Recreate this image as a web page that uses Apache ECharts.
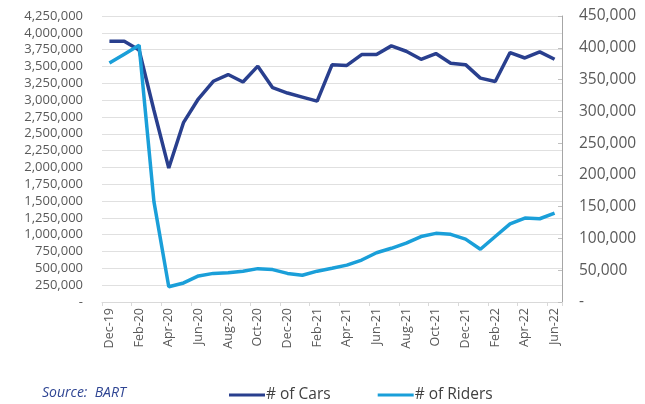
<!DOCTYPE html>
<html>
<head>
<meta charset="utf-8">
<script src="https://cdn.jsdelivr.net/npm/echarts@6/dist/echarts.min.js"></script>
<style>
html,body{margin:0;padding:0;background:#fff;}
#chart{width:645px;height:404px;}
</style>
</head>
<body>
<div id="chart"></div>
<script>
const months = ['Dec-19','Jan-20','Feb-20','Mar-20','Apr-20','May-20','Jun-20','Jul-20','Aug-20','Sep-20','Oct-20','Nov-20','Dec-20','Jan-21','Feb-21','Mar-21','Apr-21','May-21','Jun-21','Jul-21','Aug-21','Sep-21','Oct-21','Nov-21','Dec-21','Jan-22','Feb-22','Mar-22','Apr-22','May-22','Jun-22'];
const cars = [3876000,3876000,3745000,2850000,1990000,2670000,3020000,3280000,3380000,3270000,3505000,3185000,3105000,3045000,2985000,3525000,3515000,3677000,3677000,3806000,3726000,3607000,3692000,3547000,3527000,3327000,3277000,3707000,3626000,3716000,3607000];
const riders = [376000,390000,404000,158000,24000,30000,41000,45000,46000,48500,52500,51000,45000,42000,48500,53000,58000,66000,77500,84500,92500,103000,108000,106500,99000,83000,103000,123000,132000,131000,140000];
const seriesNames = ['# of Cars', '# of Riders'];
const sourceText = 'Source:  BART';

const fmt = v => v === 0 ? '-' : v.toLocaleString('en-US');
const chart = echarts.init(document.getElementById('chart'));
chart.setOption({
  animation: false,
  textStyle: {fontFamily: 'Open Sans'},
  grid: {left: 102, right: 83, top: 16, bottom: 102, containLabel: false},
  legend: {
    data: seriesNames,
    left: 224, top: 382,
    itemWidth: 36, itemHeight: 3, itemGap: 47,
    icon: 'rect',
    textStyle: {fontFamily: 'Open Sans', fontSize: 15.5, color: '#404040', padding: [0,0,0,-4]}
  },
  graphic: [{
    type: 'text', left: 42, top: 386,
    style: {text: sourceText, font: 'italic 14px "Open Sans"', fill: '#2F4593'}
  }],
  xAxis: {
    type: 'category', data: months, boundaryGap: true,
    axisLine: {lineStyle: {color: '#d9d9d9', width: 1}},
    axisTick: {show: true, interval: 1, length: 4, lineStyle: {color: '#d9d9d9'}},
    axisLabel: {interval: 1, rotate: 90, margin: 6, fontSize: 12.5, color: '#595959', fontFamily: 'Open Sans'}
  },
  yAxis: [{
    type: 'value', min: 0, max: 4250000, interval: 250000,
    axisLine: {show: false}, axisTick: {show: false},
    splitLine: {lineStyle: {color: '#e0e0e0', width: 1}},
    axisLabel: {formatter: fmt, fontSize: 13, color: '#595959', margin: 19, fontFamily: 'Open Sans'}
  }, {
    type: 'value', min: 0, max: 450000, interval: 50000,
    axisLine: {show: true, lineStyle: {color: '#a6a6a6'}},
    axisTick: {show: true, inside: true, length: 4, lineStyle: {color: '#bfbfbf'}},
    splitLine: {show: false},
    axisLabel: {formatter: fmt, fontSize: 15.5, color: '#595959', margin: 17, fontFamily: 'Open Sans'}
  }],
  series: [{
    name: seriesNames[0], type: 'line', yAxisIndex: 0, data: cars,
    symbol: 'none', lineStyle: {width: 3.5, color: '#293F8E'}, itemStyle: {color: '#293F8E'}
  }, {
    name: seriesNames[1], type: 'line', yAxisIndex: 1, data: riders,
    symbol: 'none', lineStyle: {width: 3.5, color: '#1A9FD9'}, itemStyle: {color: '#1A9FD9'}
  }]
});
</script>
</body>
</html>
